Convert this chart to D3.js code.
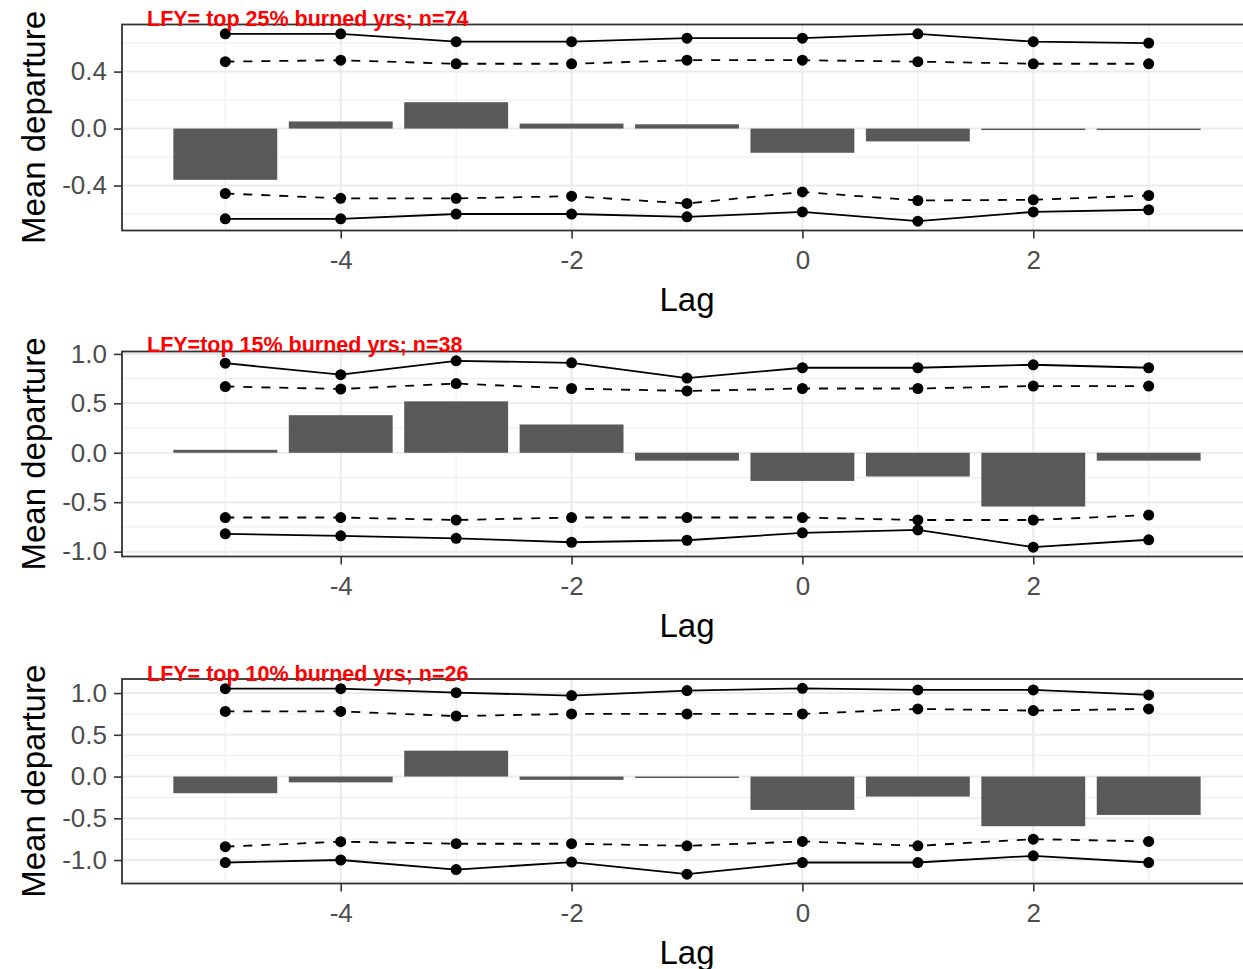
<!DOCTYPE html>
<html>
<head>
<meta charset="utf-8">
<script src="https://cdn.jsdelivr.net/npm/d3@7"></script>
<style>
  html, body { margin: 0; padding: 0; background: #fff; overflow: hidden; }
  svg { display: block; font-family: "Liberation Sans", Arial, sans-serif; }
</style>
</head>
<body>
<svg id="chart" width="1243" height="969"></svg>
<script>
// ---- data ----
const lags = [-5, -4, -3, -2, -1, 0, 1, 2, 3];
const xTicks = [-4, -2, 0, 2];

const titles = [
  "LFY= top 25% burned yrs; n=74",
  "LFY=top 15% burned yrs; n=38",
  "LFY= top 10% burned yrs; n=26"
];

// panel 1 (top 25%)
const p1Mean  = [-0.36, 0.05, 0.185, 0.035, 0.03, -0.17, -0.09, -0.005, -0.005];
const p1Hi99  = [0.665, 0.665, 0.61, 0.61, 0.635, 0.635, 0.665, 0.61, 0.60];
const p1Hi95  = [0.47, 0.48, 0.455, 0.455, 0.48, 0.48, 0.47, 0.455, 0.455];
const p1Lo95  = [-0.456, -0.49, -0.49, -0.475, -0.526, -0.445, -0.505, -0.50, -0.47];
const p1Lo99  = [-0.634, -0.634, -0.60, -0.60, -0.62, -0.585, -0.65, -0.585, -0.57];
const p1Ticks = [-0.4, 0.0, 0.4];

// panel 2 (top 15%)
const p2Mean  = [0.03, 0.38, 0.52, 0.286, -0.08, -0.285, -0.24, -0.544, -0.08];
const p2Hi99  = [0.906, 0.79, 0.93, 0.91, 0.755, 0.86, 0.86, 0.89, 0.86];
const p2Hi95  = [0.67, 0.645, 0.70, 0.65, 0.625, 0.65, 0.65, 0.675, 0.675];
const p2Lo95  = [-0.655, -0.655, -0.68, -0.655, -0.655, -0.655, -0.68, -0.68, -0.63];
const p2Lo99  = [-0.82, -0.84, -0.865, -0.905, -0.885, -0.81, -0.78, -0.955, -0.88];
const p2Ticks = [-1.0, -0.5, 0.0, 0.5, 1.0];

// panel 3 (top 10%)
const p3Mean  = [-0.20, -0.07, 0.31, -0.04, -0.01, -0.40, -0.24, -0.595, -0.46];
const p3Hi99  = [1.053, 1.053, 1.005, 0.97, 1.03, 1.057, 1.037, 1.037, 0.977];
const p3Hi95  = [0.78, 0.78, 0.724, 0.75, 0.75, 0.75, 0.81, 0.79, 0.81];
const p3Lo95  = [-0.84, -0.78, -0.805, -0.805, -0.83, -0.777, -0.83, -0.75, -0.777];
const p3Lo99  = [-1.03, -1.0, -1.115, -1.025, -1.17, -1.03, -1.03, -0.95, -1.03];
const p3Ticks = [-1.0, -0.5, 0.0, 0.5, 1.0];

const panels = [
  { title: titles[0], mean: p1Mean, hi99: p1Hi99, hi95: p1Hi95, lo95: p1Lo95, lo99: p1Lo99, ticks: p1Ticks, top: 24.5, bottom: 230.5, titleY: 26 },
  { title: titles[1], mean: p2Mean, hi99: p2Hi99, hi95: p2Hi95, lo95: p2Lo95, lo99: p2Lo99, ticks: p2Ticks, top: 351.5, bottom: 556.5, titleY: 352 },
  { title: titles[2], mean: p3Mean, hi99: p3Hi99, hi95: p3Hi95, lo95: p3Lo95, lo99: p3Lo99, ticks: p3Ticks, top: 679, bottom: 883.5, titleY: 681 }
];

// ---- drawing ----
const svg = d3.select("#chart");
const left = 122, right = 1252;
const barW = 0.9;

const xMin = d3.min(lags) - barW / 2, xMax = d3.max(lags) + barW / 2;
const xPad = (xMax - xMin) * 0.05;
const x = d3.scaleLinear().domain([xMin - xPad, xMax + xPad]).range([left, right]);

const fmtY = d => d.toFixed(1);   // ASCII hyphen-minus like the reference

panels.forEach((p, i) => {
  const all = [].concat(p.mean, p.hi99, p.hi95, p.lo95, p.lo99, [0]);
  const yMin = d3.min(all), yMax = d3.max(all);
  const yPad = (yMax - yMin) * 0.05;
  const y = d3.scaleLinear().domain([yMin - yPad, yMax + yPad]).range([p.bottom, p.top]);

  const g = svg.append("g");

  const clipId = "clip" + i;
  svg.append("clipPath").attr("id", clipId)
    .append("rect").attr("x", left).attr("y", p.top).attr("width", right - left).attr("height", p.bottom - p.top);

  const plot = g.append("g").attr("clip-path", `url(#${clipId})`);

  // minor gridlines
  const step = p.ticks[1] - p.ticks[0];
  const yMinor = [];
  for (let v = p.ticks[0] - step / 2; v <= p.ticks[p.ticks.length - 1] + step / 2 + 1e-9; v += step) yMinor.push(+v.toFixed(4));
  plot.selectAll(".ymin").data(yMinor).join("line")
    .attr("x1", left).attr("x2", right)
    .attr("y1", d => y(d)).attr("y2", d => y(d))
    .attr("stroke", "#ededed").attr("stroke-width", 1);
  const xMinor = [-5, -3, -1, 1, 3];
  plot.selectAll(".xmin").data(xMinor).join("line")
    .attr("y1", p.top).attr("y2", p.bottom)
    .attr("x1", d => x(d)).attr("x2", d => x(d))
    .attr("stroke", "#ededed").attr("stroke-width", 1);

  // major gridlines
  plot.selectAll(".ymaj").data(p.ticks).join("line")
    .attr("x1", left).attr("x2", right)
    .attr("y1", d => y(d)).attr("y2", d => y(d))
    .attr("stroke", "#ebebeb").attr("stroke-width", 2);
  plot.selectAll(".xmaj").data(xTicks).join("line")
    .attr("y1", p.top).attr("y2", p.bottom)
    .attr("x1", d => x(d)).attr("x2", d => x(d))
    .attr("stroke", "#ebebeb").attr("stroke-width", 2);

  // bars
  plot.selectAll(".bar").data(lags.map((l, k) => ({ l, v: p.mean[k] }))).join("rect")
    .attr("x", d => x(d.l - barW / 2))
    .attr("width", d => x(d.l + barW / 2) - x(d.l - barW / 2))
    .attr("y", d => y(Math.max(0, d.v)))
    .attr("height", d => Math.max(1.5, Math.abs(y(d.v) - y(0))))
    .attr("fill", "#595959");

  // lines & points
  const series = [
    { vals: p.hi99, dash: null },
    { vals: p.hi95, dash: "9,9" },
    { vals: p.lo95, dash: "9,9" },
    { vals: p.lo99, dash: null }
  ];
  const line = d3.line().x(d => x(d.l)).y(d => y(d.v));
  series.forEach(s => {
    const pts = lags.map((l, k) => ({ l, v: s.vals[k] }));
    plot.append("path").datum(pts)
      .attr("d", line)
      .attr("fill", "none").attr("stroke", "#000").attr("stroke-width", 1.8)
      .attr("stroke-dasharray", s.dash);
    plot.selectAll(null).data(pts).join("circle")
      .attr("cx", d => x(d.l)).attr("cy", d => y(d.v)).attr("r", 5.5)
      .attr("fill", "#000");
  });

  // panel border
  g.append("rect")
    .attr("x", left).attr("y", p.top)
    .attr("width", right - left).attr("height", p.bottom - p.top)
    .attr("fill", "none").attr("stroke", "#333333").attr("stroke-width", 1.8);

  // y axis
  const yAxis = d3.axisLeft(y).tickValues(p.ticks).tickFormat(fmtY).tickSize(8).tickPadding(7);
  const ya = g.append("g").attr("transform", `translate(${left},0)`).call(yAxis);
  ya.select(".domain").remove();
  ya.selectAll(".tick line").attr("stroke", "#333333").attr("stroke-width", 1.6);
  ya.selectAll(".tick text").attr("fill", "#4d4d4d").attr("font-size", 26)
    .attr("font-family", "'Liberation Sans', Arial, sans-serif");

  // x axis
  const xAxis = d3.axisBottom(x).tickValues(xTicks).tickFormat(d => String(d)).tickSize(8).tickPadding(12);
  const xa = g.append("g").attr("transform", `translate(0,${p.bottom})`).call(xAxis);
  xa.select(".domain").remove();
  xa.selectAll(".tick line").attr("stroke", "#333333").attr("stroke-width", 1.6);
  xa.selectAll(".tick text").attr("fill", "#4d4d4d").attr("font-size", 26)
    .attr("font-family", "'Liberation Sans', Arial, sans-serif");

  // axis titles
  g.append("text")
    .attr("x", (left + right) / 2).attr("y", p.bottom + 80)
    .attr("text-anchor", "middle").attr("font-size", 33).attr("fill", "#000")
    .text("Lag");
  g.append("text")
    .attr("transform", `translate(45,${(p.top + p.bottom) / 2}) rotate(-90)`)
    .attr("text-anchor", "middle").attr("font-size", 33).attr("fill", "#000")
    .text("Mean departure");

  // title
  g.append("text")
    .attr("x", 147).attr("y", p.titleY)
    .attr("font-size", 21.5).attr("font-weight", "bold").attr("fill", "#ff0000")
    .text(p.title);
});
</script>
</body>
</html>
